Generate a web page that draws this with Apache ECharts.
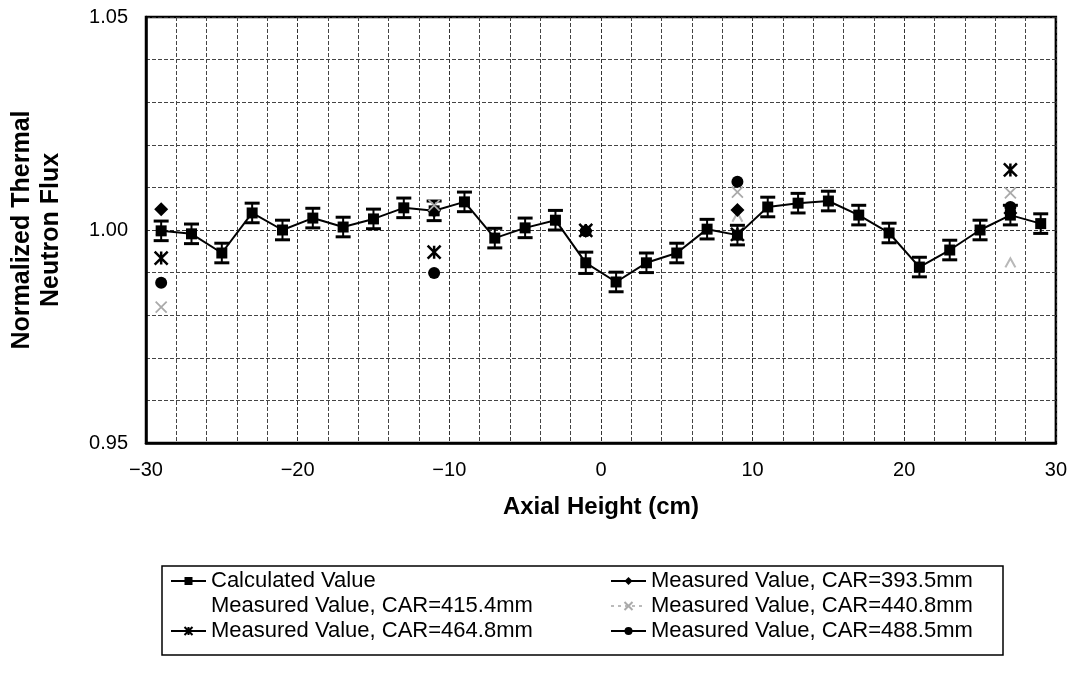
<!DOCTYPE html>
<html>
<head>
<meta charset="utf-8">
<script src="https://cdn.jsdelivr.net/npm/echarts@6/dist/echarts.min.js"></script>
<style>html,body{margin:0;padding:0;background:#fff}#c{width:1070px;height:685px}</style>
</head>
<body>
<div id="c"></div>
<script>
// ---- data ----
const calcX = [-29,-27,-25,-23,-21,-19,-17,-15,-13,-11,-9,-7,-5,-3,-1,1,3,5,7,9,11,13,15,17,19,21,23,25,27,29];
const calcY = [0.9998,0.9991,0.9946,1.0040,1.0000,1.0028,1.0007,1.0026,1.0052,1.0045,1.0066,0.9981,1.0005,1.0023,0.9923,0.9878,0.9923,0.9946,1.0002,0.9988,1.0054,1.0063,1.0068,1.0035,0.9993,0.9913,0.9953,1.0000,1.0035,1.0015];
const calcErr = [0.0023,0.0023,0.0023,0.0023,0.0023,0.0023,0.0023,0.0023,0.0023,0.0023,0.0023,0.0023,0.0023,0.0023,0.0025,0.0023,0.0023,0.0023,0.0023,0.0023,0.0023,0.0023,0.0023,0.0023,0.0023,0.0023,0.0023,0.0023,0.0023,0.0023];
const measX = [-29,-11,-1,9,27];
const m393 = [1.0049,1.0045,0.9998,1.0047,1.0040];
const m415 = [0.9998,1.0045,0.9998,1.0030,0.9923];
const m440 = [0.9819,1.0058,0.9998,1.0089,1.0087];
const m464 = [0.9934,0.9948,0.9999,0.9990,1.0141];
const m488 = [0.9876,0.9899,0.9997,1.0113,1.0054];
const yTicks = [0.95, 1.00, 1.05];
const xTicks = [-30,-20,-10,0,10,20,30];
const names = ['Calculated Value','Measured Value, CAR=393.5mm','Measured Value, CAR=415.4mm','Measured Value, CAR=440.8mm','Measured Value, CAR=464.8mm','Measured Value, CAR=488.5mm'];

// ---- build ----
const FONT = '"Liberation Sans", Arial, Helvetica, sans-serif';
function gapped(xs, ys){
  const d = [];
  xs.forEach((x,i)=>{ d.push([x, ys[i]]); d.push([x, '-']); });
  return d;
}
const calcData = calcX.map((x,i)=>[x, calcY[i]]);
const errData = calcX.map((x,i)=>[x, calcY[i]-calcErr[i], calcY[i]+calcErr[i]]);

const chart = echarts.init(document.getElementById('c'), null, {renderer:'canvas'});

const legendPos = [[170,570],[610,570],[170,595],[610,595],[170,620],[610,620]];
const legends = names.map((n,i)=>{
  const l = {
    data:[n], left:legendPos[i][0], top:legendPos[i][1], padding:0,
    itemWidth:35, itemHeight:10, itemGap:0,
    textStyle:{fontFamily:FONT, fontSize:22, color:'#000'}
  };
  if (i === 2) { l.itemStyle = {opacity:0}; l.lineStyle = {opacity:0}; }
  return l;
});

const asterisk = 'path://M0,0L10,10M10,0L0,10M5,0L5,10';
const xmark = 'path://M0,0L10,10M10,0L0,10';
const chevron = 'path://M0,10L5,2L10,10';

chart.setOption({
  animation:false,
  backgroundColor:'#fff',
  grid:{left:143, right:12, top:17, bottom:242, show:true, borderColor:'#000', borderWidth:2.5, backgroundColor:'transparent'},
  legend: legends,
  graphic:[{type:'rect', shape:{x:162, y:566, width:841, height:89}, style:{fill:'none', stroke:'#000', lineWidth:1.5}, z:0}],
  xAxis:{
    type:'value', min:xTicks[0], max:xTicks[xTicks.length-1], interval:10,
    axisLine:{show:true, onZero:false, lineStyle:{color:'#000', width:2.5}},
    axisTick:{show:false},
    axisLabel:{fontFamily:FONT, fontSize:20, color:'#000', margin:17, formatter:v=>v<0?'\u2212'+Math.abs(v):String(v)},
    splitLine:{show:true, lineStyle:{color:'#333', type:[4,2], width:1}},
    minorTick:{show:false, splitNumber:5},
    minorSplitLine:{show:true, lineStyle:{color:'#444', type:[4,2], width:1}},
    name:'Axial Height (cm)', nameLocation:'middle', nameGap:52,
    nameTextStyle:{fontFamily:FONT, fontSize:24, fontWeight:'bold', color:'#000'}
  },
  yAxis:{
    type:'value', min:yTicks[0], max:yTicks[yTicks.length-1], interval:0.05,
    axisLine:{show:true, onZero:false, lineStyle:{color:'#000', width:2.5}},
    axisTick:{show:false},
    axisLabel:{fontFamily:FONT, fontSize:20, color:'#000', margin:18, formatter:v=>v.toFixed(2)},
    splitLine:{show:true, lineStyle:{color:'#333', type:[4,2], width:1}},
    minorTick:{show:false, splitNumber:5},
    minorSplitLine:{show:true, lineStyle:{color:'#444', type:[4,2], width:1}},
    name:'Normalized Thermal\nNeutron Flux', nameLocation:'middle', nameGap:80, nameRotate:90,
    nameTextStyle:{fontFamily:FONT, fontSize:25, fontWeight:'bold', color:'#000', lineHeight:29}
  },
  series:[
    {type:'line', name:names[2], data:gapped(measX, m415), z:2, symbol:chevron, symbolSize:[10,9],
     itemStyle:{color:'none', borderColor:'#b8b8b8', borderWidth:2}, lineStyle:{color:'#ffffff', width:2}},
    {type:'custom', name:'err', data:errData, z:3, encode:{x:0, y:[1,2]},
     renderItem:function(params, api){
       const x = api.value(0), lo = api.value(1), hi = api.value(2);
       const p1 = api.coord([x, hi]), p2 = api.coord([x, lo]);
       const w = 7.5;
       return {type:'group', children:[
         {type:'line', shape:{x1:p1[0], y1:p1[1], x2:p2[0], y2:p2[1]}, style:{stroke:'#000', lineWidth:2}},
         {type:'line', shape:{x1:p1[0]-w, y1:p1[1], x2:p1[0]+w, y2:p1[1]}, style:{stroke:'#000', lineWidth:3}},
         {type:'line', shape:{x1:p2[0]-w, y1:p2[1], x2:p2[0]+w, y2:p2[1]}, style:{stroke:'#000', lineWidth:3}}
       ]};
     }},
    {type:'line', name:names[0], data:calcData, z:4, symbol:'rect', symbolSize:11,
     itemStyle:{color:'#000'}, lineStyle:{color:'#000', width:2}},
    {type:'line', name:names[1], data:gapped(measX, m393), z:5, symbol:'diamond', symbolSize:14,
     itemStyle:{color:'#000'}, lineStyle:{color:'#000', width:2}},
    {type:'line', name:names[3], data:gapped(measX, m440), z:5, symbol:xmark, symbolSize:11,
     itemStyle:{color:'none', borderColor:'#aaaaaa', borderWidth:1.8}, lineStyle:{color:'#bbbbbb', width:1.5, type:[3,4]}},
    {type:'line', name:names[4], data:gapped(measX, m464), z:6, symbol:asterisk, symbolSize:13,
     itemStyle:{color:'none', borderColor:'#000', borderWidth:2.5}, lineStyle:{color:'#000', width:2}},
    {type:'line', name:names[5], data:gapped(measX, m488), z:6, symbol:'circle', symbolSize:12,
     itemStyle:{color:'#000'}, lineStyle:{color:'#000', width:2}}
  ]
});
</script>
</body>
</html>
